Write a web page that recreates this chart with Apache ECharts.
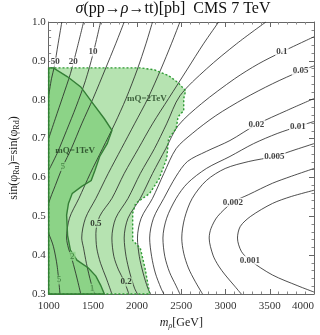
<!DOCTYPE html>
<html>
<head>
<meta charset="utf-8">
<script src="https://cdn.jsdelivr.net/npm/echarts@6/dist/echarts.min.js"></script>
<style>
  html, body { margin: 0; padding: 0; background: #fff; }
  #chart { width: 320px; height: 335px; }
</style>
</head>
<body>
<div id="chart"></div>
<script>
// axis ticks
const xTicks = [1000, 1500, 2000, 2500, 3000, 3500, 4000];
const yTicks = [0.3, 0.4, 0.5, 0.6, 0.7, 0.8, 0.9, 1.0];

// contour levels (pb) and their lines [m_rho, sin(phi)]
const c50 = [[1149,1.0],[1107,0.944],[1064,0.885],[1032,0.854],[1000,0.810]];
const c20 = [[1395,1.0],[1320,0.931],[1246,0.867],[1160,0.808],[1075,0.751],[1000,0.700]];
const c10 = [[1587,1.0],[1502,0.918],[1416,0.849],[1310,0.782],[1203,0.721],[1096,0.662],[1000,0.618]];
const c5 = [[1854,1.0],[1758,0.944],[1641,0.879],[1502,0.803],[1374,0.738],[1256,0.674],[1160,0.628],[1075,0.579],[1000,0.533],[960,0.48],[1000,0.456],[1053,0.423],[1096,0.372],[1128,0.30]];
const c2 = [[2174,1.0],[2100,0.944],[2004,0.879],[1875,0.803],[1747,0.738],[1609,0.674],[1470,0.610],[1342,0.546],[1235,0.495],[1203,0.444],[1224,0.418],[1267,0.387],[1320,0.341],[1363,0.30]];
const c1 = [[2484,1.0],[2388,0.944],[2270,0.879],[2121,0.803],[1971,0.738],[1822,0.674],[1673,0.610],[1534,0.546],[1416,0.495],[1374,0.444],[1395,0.418],[1427,0.379],[1480,0.328],[1523,0.30]];
const c05 = [[2922,1.0],[2751,0.944],[2569,0.879],[2356,0.803],[2174,0.738],[2014,0.674],[1854,0.610],[1715,0.546],[1577,0.500],[1534,0.456],[1544,0.418],[1587,0.379],[1651,0.341],[1715,0.30]];
const c02 = [[3456,1.0],[3125,0.944],[2783,0.879],[2484,0.810],[2334,0.738],[2196,0.674],[2036,0.610],[1897,0.546],[1758,0.495],[1715,0.444],[1737,0.397],[1790,0.362],[1854,0.333],[1907,0.30]];
const c01 = [[4000,0.962],[3637,0.923],[3370,0.892],[3103,0.854],[2729,0.790],[2463,0.733],[2324,0.674],[2174,0.610],[2036,0.546],[1897,0.495],[1854,0.444],[1875,0.397],[1918,0.354],[1971,0.315],[2004,0.30]];
const c005 = [[4000,0.887],[3850,0.874],[3530,0.841],[3210,0.803],[2890,0.759],[2623,0.713],[2441,0.674],[2302,0.610],[2174,0.546],[2046,0.495],[2004,0.444],[2025,0.397],[2068,0.354],[2121,0.315],[2153,0.30]];
const c002 = [[4000,0.803],[3690,0.772],[3349,0.736],[3050,0.695],[2783,0.667],[2569,0.641],[2441,0.603],[2302,0.546],[2185,0.495],[2142,0.444],[2164,0.397],[2206,0.354],[2270,0.315],[2302,0.30]];
const c001 = [[4000,0.744],[3818,0.731],[3584,0.713],[3317,0.687],[3050,0.654],[2783,0.623],[2569,0.585],[2441,0.546],[2334,0.495],[2292,0.444],[2313,0.397],[2367,0.356],[2441,0.321],[2484,0.30]];
const c0005 = [[4000,0.687],[3797,0.672],[3552,0.654],[3263,0.641],[2996,0.623],[2783,0.592],[2623,0.546],[2537,0.495],[2505,0.444],[2527,0.405],[2580,0.367],[2655,0.333],[2740,0.30]];
const c0002 = [[4000,0.623],[3744,0.603],[3530,0.585],[3263,0.556],[3082,0.536],[2911,0.500],[2836,0.469],[2815,0.444],[2858,0.400],[2922,0.372],[2996,0.349],[3093,0.323],[3178,0.30]];
const c0001 = [[4000,0.567],[3744,0.551],[3530,0.533],[3285,0.500],[3167,0.474],[3135,0.444],[3178,0.410],[3274,0.387],[3530,0.349],[3818,0.321],[4000,0.305]];
const contours = [c50, c20, c10, c5, c2, c1, c05, c02, c01, c005, c002, c001, c0005, c0002, c0001];

// contour labels [m_rho, sin(phi), text]
const contourLabels = [
  [1075, 0.897, '50'], [1278, 0.897, '20'], [1502, 0.923, '10'],
  [1160, 0.628, '5'], [1117, 0.336, '5'], [1267, 0.397, '2'], [1491, 0.315, '1'],
  [1534, 0.482, '0.5'], [1875, 0.331, '0.2'],
  [3637, 0.923, '0.1'], [3850, 0.874, '0.05'], [3349, 0.736, '0.02'], [3818, 0.731, '0.01'],
  [3552, 0.654, '0.005'], [3082, 0.536, '0.002'], [3274, 0.387, '0.001']
];

// allowed regions
const region2TeV = [[1000,0.30],[1000,0.882],[2036,0.882],[2196,0.877],[2356,0.862],[2463,0.844],[2549,0.823],[2527,0.803],[2527,0.772],[2463,0.756],[2442,0.726],[2356,0.70],[2335,0.649],[2250,0.597],[2143,0.559],[1983,0.533],[1950,0.508],[1950,0.438],[2036,0.418],[2089,0.367],[2143,0.30]];
const region1TeV = [[1000,0.30],[1000,0.882],[1053,0.882],[1214,0.859],[1363,0.833],[1502,0.790],[1630,0.751],[1716,0.721],[1662,0.687],[1577,0.654],[1523,0.618],[1481,0.592],[1374,0.577],[1267,0.559],[1224,0.533],[1203,0.503],[1214,0.451],[1246,0.413],[1320,0.387],[1449,0.367],[1534,0.346],[1587,0.323],[1630,0.30]];
const regionLabels = [[2110, 0.803, 'mQ=2TeV'], [1300, 0.668, 'mQ=1TeV']];

const serif = '"Liberation Serif", "DejaVu Serif", serif';
const lightGreen = '#b6e3b1';
const darkGreen = '#8cd387';

function polygon(points, fill, stroke, dash, z) {
  return {
    type: 'custom',
    coordinateSystem: 'cartesian2d',
    silent: true,
    z: z,
    data: [[2000, 0.5]],
    renderItem: function (params, api) {
      return {
        type: 'polygon',
        shape: { points: points.map(p => api.coord(p)) },
        style: { fill: fill, stroke: stroke, lineWidth: 1.4, lineDash: dash }
      };
    }
  };
}

const inDark = ['5', '2', '1'];
const inLight = ['0.5', '0.2'];

const series = [
  polygon(region2TeV, lightGreen, null, null, 1),
  polygon(region1TeV, darkGreen, null, null, 1)
];
contours.forEach(c => {
  series.push({
    type: 'line',
    data: c,
    symbol: 'none',
    smooth: 0.3,
    silent: true,
    z: 2,
    lineStyle: { color: '#222', width: 0.8 }
  });
});
series.push(polygon(region2TeV, 'none', '#2f9a35', [2, 2], 3));
series.push(polygon(region1TeV, 'none', '#347f36', null, 3));
series.push({
  type: 'scatter',
  symbolSize: 0,
  silent: true,
  z: 4,
  data: contourLabels.map(d => {
    const dark = inDark.includes(d[2]);
    const light = inLight.includes(d[2]);
    return {
      value: [d[0], d[1]],
      name: d[2],
      label: {
        backgroundColor: dark ? darkGreen : (light ? lightGreen : '#fff'),
        color: dark ? '#2e6e2e' : '#111',
        fontWeight: dark ? 'normal' : 'bold'
      }
    };
  }),
  label: {
    show: true,
    position: 'inside',
    formatter: p => p.name,
    fontFamily: serif,
    fontSize: 9,
    padding: [0, 1]
  }
});
series.push({
  type: 'scatter',
  symbolSize: 0,
  silent: true,
  z: 4,
  data: regionLabels.map(d => ({ value: [d[0], d[1]], name: d[2] })),
  label: {
    show: true,
    position: 'inside',
    formatter: p => p.name,
    fontFamily: serif,
    fontSize: 9,
    fontWeight: 'bold',
    color: '#1d3d1d'
  }
});

const axisCommon = {
  type: 'value',
  axisLine: { show: true, lineStyle: { color: '#666', width: 1 } },
  axisTick: { show: true, inside: true, length: 5, lineStyle: { color: '#666' } },
  minorTick: { show: true, splitNumber: 5, length: 2.5, lineStyle: { color: '#888' } },
  splitLine: { show: false }
};

const option = {
  animation: false,
  backgroundColor: '#fff',
  grid: { left: 33, right: 6, top: 22, bottom: 39, containLabel: false },
  graphic: [{
    type: 'text',
    x: 173,
    y: 1,
    style: {
      text: '{i|σ}(pp→{i|ρ}→tt)[pb]  CMS 7 TeV',
      textAlign: 'center',
      fontFamily: serif,
      fontSize: 16,
      fill: '#111',
      rich: { i: { fontStyle: 'italic', fontFamily: serif, fontSize: 16 } }
    }
  }],
  xAxis: [
    Object.assign({}, axisCommon, {
      min: xTicks[0], max: xTicks[xTicks.length - 1], interval: 500,
      position: 'bottom',
      name: '{i|m}{s|ρ}[GeV]',
      nameLocation: 'middle',
      nameGap: 22,
      nameTextStyle: {
        fontFamily: serif, fontSize: 12, color: '#222',
        rich: { i: { fontStyle: 'italic', fontFamily: serif, fontSize: 12 },
                s: { fontStyle: 'italic', fontFamily: serif, fontSize: 8, verticalAlign: 'bottom', padding: [6, 0, 0, 0] } }
      },
      axisLabel: { fontFamily: serif, fontSize: 11, color: '#333', margin: 7, alignMaxLabel: 'right', formatter: v => String(v) }
    }),
    Object.assign({}, axisCommon, {
      min: xTicks[0], max: xTicks[xTicks.length - 1], interval: 500,
      position: 'top',
      axisLabel: { show: false }
    })
  ],
  yAxis: [
    Object.assign({}, axisCommon, {
      min: yTicks[0], max: yTicks[yTicks.length - 1], interval: 0.1,
      position: 'left',
      name: 'sin(φ{s|Ru})=sin(φ{s|Rd})',
      nameLocation: 'middle',
      nameGap: 22,
      nameTextStyle: {
        fontFamily: serif, fontSize: 12, color: '#222',
        rich: { s: { fontFamily: serif, fontSize: 8, padding: [6, 0, 0, 0] } }
      },
      axisLabel: { fontFamily: serif, fontSize: 11, color: '#333', margin: 3, formatter: v => v.toFixed(1) }
    }),
    Object.assign({}, axisCommon, {
      min: yTicks[0], max: yTicks[yTicks.length - 1], interval: 0.1,
      position: 'right',
      axisLabel: { show: false }
    })
  ],
  series: series
};

const chart = echarts.init(document.getElementById('chart'), null, { renderer: 'canvas' });
chart.setOption(option);
</script>
</body>
</html>
